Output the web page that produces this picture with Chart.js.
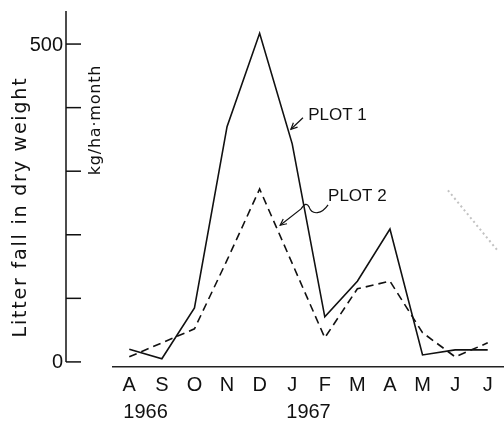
<!DOCTYPE html>
<html>
<head>
<meta charset="utf-8">
<script src="https://cdn.jsdelivr.net/npm/chart.js@4.4.1/dist/chart.umd.min.js"></script>
<style>
html, body { margin: 0; padding: 0; background: #fff; }
</style>
</head>
<body>
<canvas id="chart" width="504" height="422"></canvas>
<script>
// litter fall, kg/ha per month, Aug 1966 - Jul 1967
const months = ["A", "S", "O", "N", "D", "J", "F", "M", "A", "M", "J", "J"];
const plot1 = [20, 5, 85, 370, 517, 343, 71, 127, 209, 11, 19, 19];
const plot2 = [8, 30, 52, 160, 272, 155, 38, 115, 127, 46, 8, 30];
const yTicks = [0, 100, 200, 300, 400, 500];
const yTickLabels = ["0", "", "", "", "", "500"];
const yearLabels = ["1966", "1967"];
const yearAt = [0.5, 5.5];

const ink = "#111";
const tickFont = "20px 'Liberation Sans', Arial, sans-serif";

const extras = {
    id: "extras",
    afterDraw(chart) {
        const ctx = chart.ctx;
        const xs = chart.scales.x;
        const ys = chart.scales.y;
        const px = i => xs.getPixelForValue(i);
        const py = v => ys.getPixelForValue(v);
        const axisX = 66;

        ctx.save();
        ctx.strokeStyle = ink;
        ctx.fillStyle = ink;
        ctx.lineWidth = 1.5;

        // y axis sits apart from the x axis
        ctx.beginPath();
        ctx.moveTo(axisX, chart.chartArea.top);
        ctx.lineTo(axisX, py(0));
        ctx.stroke();
        ctx.font = tickFont;
        ctx.textAlign = "right";
        ctx.textBaseline = "middle";
        yTicks.forEach((v, k) => {
            ctx.beginPath();
            ctx.moveTo(axisX, py(v));
            ctx.lineTo(axisX + 15, py(v));
            ctx.stroke();
            if (yTickLabels[k]) ctx.fillText(yTickLabels[k], axisX - 3, py(v) + 1);
        });

        // years under the month letters
        ctx.textAlign = "center";
        yearLabels.forEach((t, k) => ctx.fillText(t, px(yearAt[k]), 412));

        // axis titles
        ctx.save();
        ctx.translate(21, 207);
        ctx.rotate(-Math.PI / 2);
        ctx.font = "19px 'DejaVu Sans', sans-serif";
        ctx.letterSpacing = "1.8px";
        ctx.fillText("Litter fall in dry weight", 0, 0);
        ctx.restore();
        ctx.save();
        ctx.translate(96, 120);
        ctx.rotate(-Math.PI / 2);
        ctx.font = "16px 'DejaVu Sans', sans-serif";
        ctx.letterSpacing = "0.8px";
        ctx.fillText("kg/ha\u00b7month", 0, 0);
        ctx.restore();

        // labels with arrows
        ctx.font = "17px 'Liberation Sans', Arial, sans-serif";
        ctx.textAlign = "left";
        ctx.fillText("PLOT 1", px(5.49), py(388));
        ctx.fillText("PLOT 2", px(6.1), py(261));

        ctx.lineWidth = 1.2;
        const arrowHead = (x0, y0, x1, y1) => {
            const a = Math.atan2(y1 - y0, x1 - x0);
            ctx.beginPath();
            ctx.moveTo(x1 - 7 * Math.cos(a - 0.45), y1 - 7 * Math.sin(a - 0.45));
            ctx.lineTo(x1, y1);
            ctx.lineTo(x1 - 7 * Math.cos(a + 0.45), y1 - 7 * Math.sin(a + 0.45));
            ctx.stroke();
        };
        let x0 = px(5.33), y0 = py(384), x1 = px(4.96), y1 = py(366);
        ctx.beginPath();
        ctx.moveTo(x0, y0);
        ctx.lineTo(x1, y1);
        ctx.stroke();
        arrowHead(x0, y0, x1, y1);

        const bx = px(6.1), by = py(247);
        x1 = px(4.63); y1 = py(215);
        ctx.beginPath();
        ctx.moveTo(bx, by);
        ctx.bezierCurveTo(bx - 6, by + 9, bx - 16, by + 11, bx - 19, by + 2);
        ctx.quadraticCurveTo(bx - 22, by - 4, bx - 27, by + 4);
        ctx.lineTo(x1, y1);
        ctx.stroke();
        arrowHead(bx - 27, by + 4, x1, y1);

        // faint smudge on the scan
        ctx.strokeStyle = "rgba(120,120,120,0.45)";
        ctx.lineWidth = 2;
        ctx.setLineDash([2, 3]);
        ctx.beginPath();
        ctx.moveTo(px(9.78), py(270));
        ctx.lineTo(px(11.29), py(176));
        ctx.stroke();
        ctx.restore();
    }
};

new Chart(document.getElementById("chart"), {
    type: "line",
    data: {
        labels: months,
        datasets: [{
            label: "PLOT 1",
            data: plot1,
            borderColor: ink,
            borderWidth: 1.6,
            pointRadius: 0,
            tension: 0
        }, {
            label: "PLOT 2",
            data: plot2,
            borderColor: ink,
            borderWidth: 1.6,
            borderDash: [8, 5],
            pointRadius: 0,
            tension: 0
        }]
    },
    options: {
        responsive: false,
        animation: false,
        devicePixelRatio: 1,
        layout: { padding: { left: 113, top: 11, right: 0, bottom: 0 } },
        plugins: { legend: { display: false }, tooltip: { enabled: false } },
        scales: {
            x: {
                offset: true,
                grid: { display: false, drawTicks: false },
                border: { display: true, color: "#222", width: 1.6 },
                ticks: {
                    color: ink,
                    font: { family: "'Liberation Sans', Arial, sans-serif", size: 20 },
                    padding: 6,
                    maxRotation: 0,
                    autoSkip: false
                },
                afterFit(s) { s.height = 55; }
            },
            y: { display: false, min: -8, max: 552 }
        }
    },
    plugins: [extras]
});
</script>
</body>
</html>
